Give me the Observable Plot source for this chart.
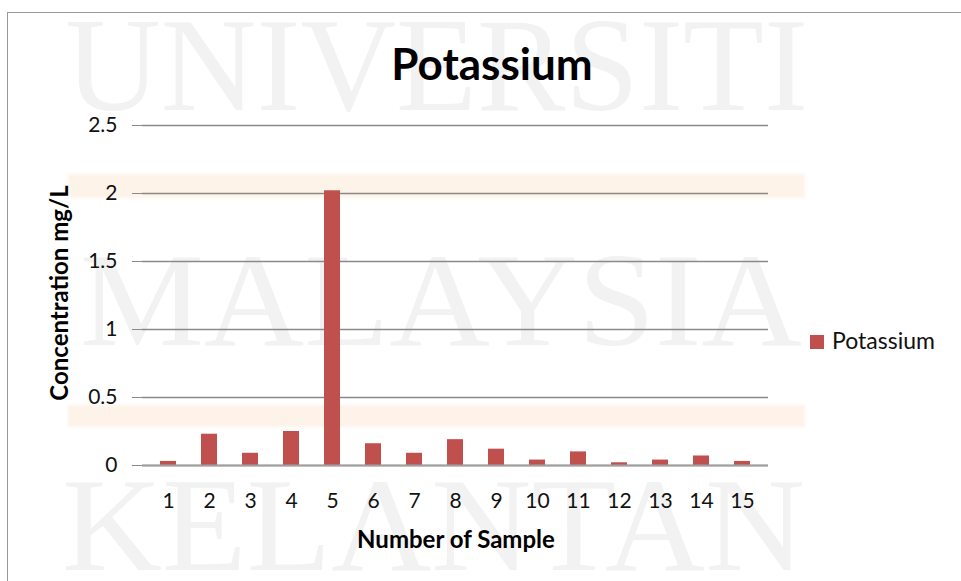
<!DOCTYPE html>
<html>
<head>
<meta charset="utf-8">
<script src="https://cdn.jsdelivr.net/npm/d3@7"></script>
<script src="https://cdn.jsdelivr.net/npm/@observablehq/plot@0.6"></script>
<style>
  html, body { margin: 0; padding: 0; background: #fff; }
  #page { position: relative; width: 961px; height: 581px; overflow: hidden; font-family: Lato, "Open Sans", sans-serif; }
  #page > svg { position: absolute; left: 0; top: 0; }
  .frame { position: absolute; left: 7px; top: 12px; width: 1000px; height: 600px; border-left: 1.5px solid #9a9a9a; border-top: 1.5px solid #9a9a9a; }
  .band { position: absolute; left: 68px; width: 737px; background: #fef3e9; filter: blur(1.5px); }
</style>
</head>
<body>
<div id="page"></div>
<script>
// Potassium concentration (mg/L) for each of the 15 samples
const samples = [1, 2, 3, 4, 5, 6, 7, 8, 9, 10, 11, 12, 13, 14, 15];
const potassium = [0.03, 0.23, 0.09, 0.25, 2.02, 0.16, 0.09, 0.19, 0.12, 0.04, 0.10, 0.02, 0.04, 0.07, 0.03];
const yTicks = [0, 0.5, 1, 1.5, 2, 2.5];

const seriesName = "Potassium";
const barColor = "#c0504d";
const font = "Lato, 'Open Sans', sans-serif";

const data = samples.map((s, i) => ({sample: s, value: potassium[i]}));
const page = document.getElementById("page");

// faint page watermark behind the chart
const wm = d3.create("svg").attr("width", 961).attr("height", 581);
[["UNIVERSITI", 65, 110, 743], ["MALAYSIA", 80, 345, 722], ["KELANTAN", 62, 570, 743]].forEach(([t, x, y, w]) => {
  wm.append("text")
    .attr("x", x).attr("y", y)
    .attr("textLength", w).attr("lengthAdjust", "spacingAndGlyphs")
    .attr("font-family", "'Liberation Serif', 'DejaVu Serif', serif")
    .attr("font-size", 134)
    .attr("fill", "#f2f2f2")
    .text(t);
});
page.appendChild(wm.node());

for (const [top, h] of [[174, 24], [405, 22]]) {
  const b = document.createElement("div");
  b.className = "band";
  b.style.top = top + "px";
  b.style.height = h + "px";
  page.appendChild(b);
}

const frame = document.createElement("div");
frame.className = "frame";
page.appendChild(frame);

const chart = Plot.plot({
  width: 961,
  height: 581,
  marginLeft: 142,
  marginRight: 193,
  marginTop: 125,
  marginBottom: 116,
  style: {fontFamily: font, fontSize: "21px", background: "transparent", color: "#111"},
  x: {type: "band", domain: samples, paddingInner: 0.6, paddingOuter: 0.3, label: null},
  y: {domain: [0, 2.5], label: null},
  marks: [
    Plot.gridY(yTicks, {stroke: "#8a8a8a", strokeOpacity: 1, strokeWidth: 1.3}),
    Plot.barY(data, {x: "sample", y: "value", fill: barColor}),
    Plot.axisY(yTicks, {tickSize: 10, tickPadding: 15, stroke: "#8a8a8a", tickFormat: d => String(d), fontSize: 21}),
    Plot.ruleX([0], {frameAnchor: "left", stroke: "#8a8a8a", strokeWidth: 1.3}),
    Plot.ruleY([0], {stroke: "#a0a0a0", strokeWidth: 2}),
    Plot.axisX({tickSize: 0, tickPadding: 28, fontSize: 21})
  ]
});
page.appendChild(chart);

// title, axis titles and legend
const ov = d3.create("svg").attr("width", 961).attr("height", 581)
  .attr("font-family", font).attr("fill", "#000");
ov.append("text").attr("x", 492).attr("y", 80).attr("text-anchor", "middle")
  .attr("font-size", 44).attr("font-weight", "bold").text(seriesName);
ov.append("text").attr("x", 456).attr("y", 548).attr("text-anchor", "middle")
  .attr("font-size", 24).attr("font-weight", "bold").text("Number of Sample");
ov.append("text").attr("transform", "translate(68,293) rotate(-90)").attr("text-anchor", "middle")
  .attr("font-size", 24).attr("font-weight", "bold").text("Concentration mg/L");
ov.append("rect").attr("x", 810).attr("y", 335).attr("width", 14).attr("height", 14).attr("fill", barColor);
ov.append("text").attr("x", 832).attr("y", 349)
  .attr("font-size", 23).attr("fill", "#111").text(seriesName);
page.appendChild(ov.node());
</script>
</body>
</html>
